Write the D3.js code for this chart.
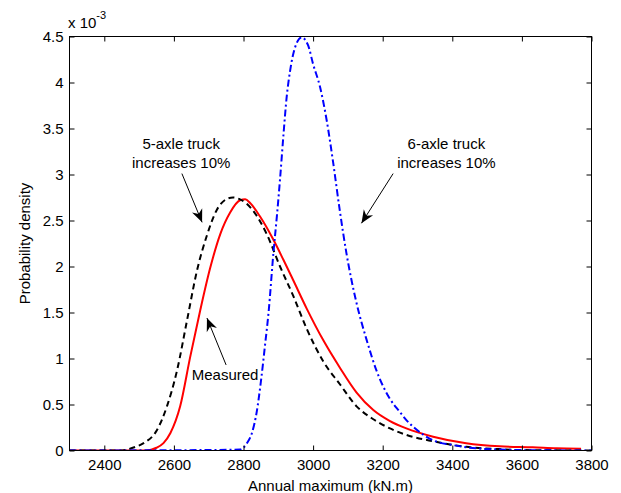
<!DOCTYPE html>
<html><head><meta charset="utf-8">
<script src="https://cdn.jsdelivr.net/npm/d3@7"></script>
<style>
html,body{margin:0;padding:0;background:#fff;}
text{font-family:"Liberation Sans",Arial,Helvetica,sans-serif;fill:#000;}
</style></head>
<body>
<svg id="chart" width="621" height="493"></svg>
<script>
// ---- data (x = annual maximum kN.m, y = probability density x 1e-3) ----
const measuredX = [2300,2520,2550,2570,2590,2618,2647,2676,2704,2733,2762,2790,2805,2819,2848,2886,2915,2943,2982,3029,3077,3125,3173,3221,3268,3345,3440,3536,3631,3700,3770];
const measuredY = [0,0,0.03,0.08,0.19,0.48,1.02,1.53,1.98,2.35,2.59,2.72,2.73,2.69,2.54,2.29,2.07,1.85,1.54,1.2,0.9,0.63,0.44,0.32,0.24,0.15,0.078,0.045,0.035,0.025,0.02];

const fiveAxleX = [2300,2440,2465,2490,2513,2551,2580,2609,2638,2666,2695,2724,2750,2770,2790,2829,2867,2905,2943,2982,3029,3077,3125,3173,3221,3268,3345,3440,3536,3600,3800];
const fiveAxleY = [0,0,0.01,0.04,0.08,0.22,0.48,0.87,1.42,1.95,2.34,2.62,2.73,2.75,2.73,2.6,2.35,2.0,1.68,1.32,0.97,0.72,0.48,0.34,0.24,0.17,0.1,0.04,0.015,0.005,0];

const sixAxleX = [2300,2700,2790,2810,2825,2838,2850,2862,2872,2886,2896,2905,2915,2924,2934,2948,2967,2986,3000,3020,3039,3058,3077,3096,3125,3154,3182,3221,3249,3268,3287,3345,3400,3440,3536,3600,3800];
const sixAxleY = [0,0.005,0.01,0.08,0.2,0.42,0.75,1.15,1.5,2.15,2.55,2.95,3.44,3.84,4.13,4.38,4.49,4.4,4.2,3.95,3.59,3.12,2.6,2.14,1.6,1.2,0.87,0.56,0.42,0.33,0.26,0.11,0.06,0.035,0.01,0.004,0];

const xTicks = [2400,2600,2800,3000,3200,3400,3600,3800];
const yTicks = [0,0.5,1,1.5,2,2.5,3,3.5,4,4.5];
const xDomain = [2300,3800];
const yDomain = [0,4.5];

// annotations: text lines, text anchor point, arrow start and tip (data units)
const annoLabels = [["5-axle truck","increases 10%"],["6-axle truck","increases 10%"],["Measured"]];
const annoTextX = [2621,3383,2747];
const annoTextY = [3.33,3.33,0.82];
const arrowFromX = [2623,3230,2750];
const arrowFromY = [3.01,3.01,0.93];
const arrowToX = [2681,3139,2695];
const arrowToY = [2.48,2.47,1.44];

// ---- layout ----
const L=69.5, R=591.5, T=36.5, B=450.5;
const svg = d3.select("#chart");
const x = d3.scaleLinear().domain(xDomain).range([L,R]);
const y = d3.scaleLinear().domain(yDomain).range([B,T]);
const FS = 15;

// lines
const line = d3.line().x(d=>x(d[0])).y(d=>y(d[1])).curve(d3.curveMonotoneX);
const series = [
  {xs:measuredX, ys:measuredY, color:"#ff0000", dash:null},
  {xs:fiveAxleX, ys:fiveAxleY, color:"#000000", dash:"6,4"},
  {xs:sixAxleX, ys:sixAxleY, color:"#0000ff", dash:"7,3,2,3"}
];
const g = svg.append("g");
g.append("clipPath").attr("id","clip").append("rect").attr("x",L).attr("y",T-3).attr("width",R-L).attr("height",B-T+3);
series.forEach(s=>{
  g.append("path").datum(s.xs.map((v,i)=>[v,s.ys[i]]))
    .attr("d",line).attr("fill","none").attr("stroke",s.color)
    .attr("stroke-width",2).attr("stroke-dasharray",s.dash)
    .attr("clip-path","url(#clip)");
});

// axes box
const axB = d3.axisBottom(x).tickValues(xTicks).tickSize(-5).tickPadding(9).tickFormat(d3.format("d"));
const axT = d3.axisTop(x).tickValues(xTicks).tickSize(-5).tickFormat("");
const axL = d3.axisLeft(y).tickValues(yTicks).tickSize(-5).tickPadding(6).tickFormat(d=>String(d));
const axR = d3.axisRight(y).tickValues(yTicks).tickSize(-5).tickFormat("");
function style(sel){
  sel.select(".domain").remove();
  sel.selectAll("line").attr("stroke","#000");
  sel.selectAll("text").attr("font-size",FS).attr("font-family",null).attr("fill","#000");
}
svg.append("g").attr("transform",`translate(0,${B})`).call(axB).call(style);
svg.append("g").attr("transform",`translate(0,${T})`).call(axT).call(style);
svg.append("g").attr("transform",`translate(${L},0)`).call(axL).call(style);
svg.append("g").attr("transform",`translate(${R},0)`).call(axR).call(style);
svg.append("rect").attr("x",L).attr("y",T).attr("width",R-L).attr("height",B-T)
  .attr("fill","none").attr("stroke","#000").attr("stroke-width",1);

// exponent label
const ex = svg.append("text").attr("x",68).attr("y",28).attr("font-size",FS);
ex.append("tspan").text("x 10");
ex.append("tspan").attr("font-size",11).attr("dy",-9).text("-3");

// axis titles
svg.append("text").attr("x",(L+R)/2).attr("y",491).attr("text-anchor","middle").attr("font-size",FS).text("Annual maximum (kN.m)");
svg.append("text").attr("transform",`translate(30,${(T+B)/2}) rotate(-90)`).attr("text-anchor","middle").attr("font-size",FS).text("Probability density");

// annotations
annoLabels.forEach((lines,i)=>{
  const t = svg.append("text").attr("text-anchor","middle").attr("font-size",FS)
    .attr("x",x(annoTextX[i])).attr("y",y(annoTextY[i]));
  lines.forEach((s,j)=>t.append("tspan").attr("x",x(annoTextX[i])).attr("dy",j===0?"0.35em":"1.25em").text(s));
  const x1=x(arrowFromX[i]), y1=y(arrowFromY[i]), x2=x(arrowToX[i]), y2=y(arrowToY[i]);
  const ang = Math.atan2(y2-y1,x2-x1)*180/Math.PI;
  svg.append("line").attr("x1",x1).attr("y1",y1).attr("x2",x2).attr("y2",y2).attr("stroke","#000").attr("stroke-width",1);
  svg.append("path").attr("d","M0,0L-13,-5.5L-9,0L-13,5.5Z").attr("fill","#000")
    .attr("transform",`translate(${x2},${y2}) rotate(${ang})`);
});
</script>
</body></html>
